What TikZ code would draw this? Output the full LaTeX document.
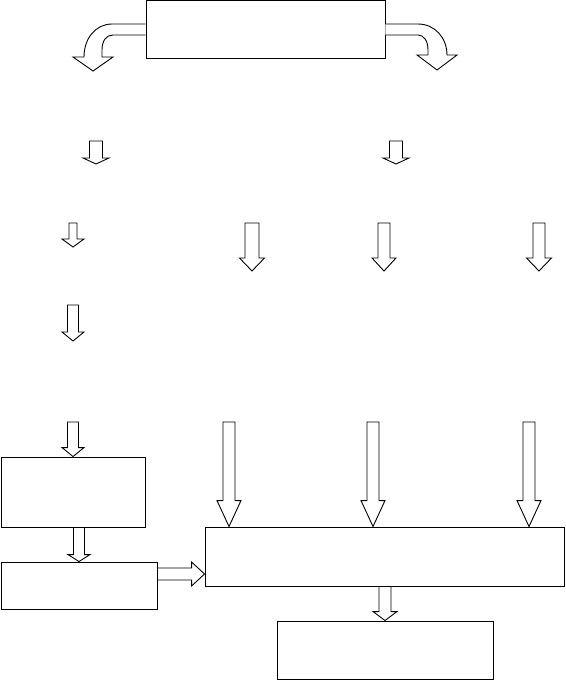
\documentclass[tikz,border=0pt]{standalone}
\usetikzlibrary{calc}

% down block arrow: from, to, shaft half width, head half width, head length
\newcommand{\darr}[5]{%
  \draw[blk] let \p1=(#1), \p2=(#2) in
    (\x2-#3,\y1) -- (\x2-#3,\y2+#5) -- (\x2-#4,\y2+#5) -- (\p2)
    -- (\x2+#4,\y2+#5) -- (\x2+#3,\y2+#5) -- (\x2+#3,\y1) -- cycle;}
% right block arrow: from, to, shaft half width, head half width, head length
\newcommand{\rarr}[5]{%
  \draw[blk] let \p1=(#1), \p2=(#2) in
    (\x1,\y2+#3) -- (\x2-#5,\y2+#3) -- (\x2-#5,\y2+#4) -- (\p2)
    -- (\x2-#5,\y2-#4) -- (\x2-#5,\y2-#3) -- (\x1,\y2-#3) -- cycle;}

\begin{document}
\begin{tikzpicture}[x=1pt,y=-1pt,
  box/.style={draw,line width=0.9pt,inner sep=0pt},
  blk/.style={draw,line width=0.9pt,fill=white,line join=miter}
]
\useasboundingbox (0,0) rectangle (565,680);
\node[box,minimum width=239pt,minimum height=58pt] (top) at (265.5,29.5) {};
\node[box,minimum width=144pt,minimum height=70pt] (l1) at (73,492) {};
\node[box,minimum width=156pt,minimum height=47pt] (l2) at (79,585.5) {};
\node[box,minimum width=359pt,minimum height=59pt] (mid) at (384.5,556.5) {};
\node[box,minimum width=216pt,minimum height=58pt] (out) at (385,650) {};
\draw[blk] ([yshift=5.5pt]top.west) -- (112,24) .. controls (96,24) and (84,38) .. (84,57)
  -- (73,57) -- (93,71) -- (113,57) -- (102,57) -- (102,50)
  .. controls (102,41) and (106,35) .. (113,35) -- ([yshift=-5.5pt]top.west);
\draw[blk] ([yshift=5.5pt]top.east) -- (418,24) .. controls (435,24) and (447,38) .. (447,55)
  -- (457,55) -- (437,70) -- (417,55) -- (428,55) -- (428,50)
  .. controls (428,41) and (424,35) .. (418,35) -- ([yshift=-5.5pt]top.east);
\darr{96,141}{96,164}{6.5pt}{13pt}{6pt}
\darr{396,141}{396,164}{6.5pt}{13pt}{6pt}
\darr{73,223}{73,247}{4pt}{11pt}{8pt}
\darr{252,223}{252,271}{7pt}{12.5pt}{13pt}
\darr{384,223}{384,271}{6pt}{12pt}{13pt}
\darr{539,223}{539,271}{6pt}{12.5pt}{13pt}
\darr{73,305}{73,341}{5.5pt}{11pt}{9pt}
\darr{73,422}{l1.north}{5.5pt}{11pt}{9pt}
\darr{l1.south}{l2.north}{5.5pt}{11pt}{7pt}
\darr{229,422}{229,422 |- mid.north}{6pt}{12pt}{26pt}
\darr{373,422}{373,422 |- mid.north}{6pt}{12pt}{26pt}
\darr{529,422}{529,422 |- mid.north}{6pt}{12pt}{26pt}
\rarr{[yshift=11.5pt]l2.east}{mid.west |- 0,574}{6pt}{12pt}{13pt}
\darr{mid.south}{out.north}{6pt}{12pt}{9pt}
\end{tikzpicture}
\end{document}
